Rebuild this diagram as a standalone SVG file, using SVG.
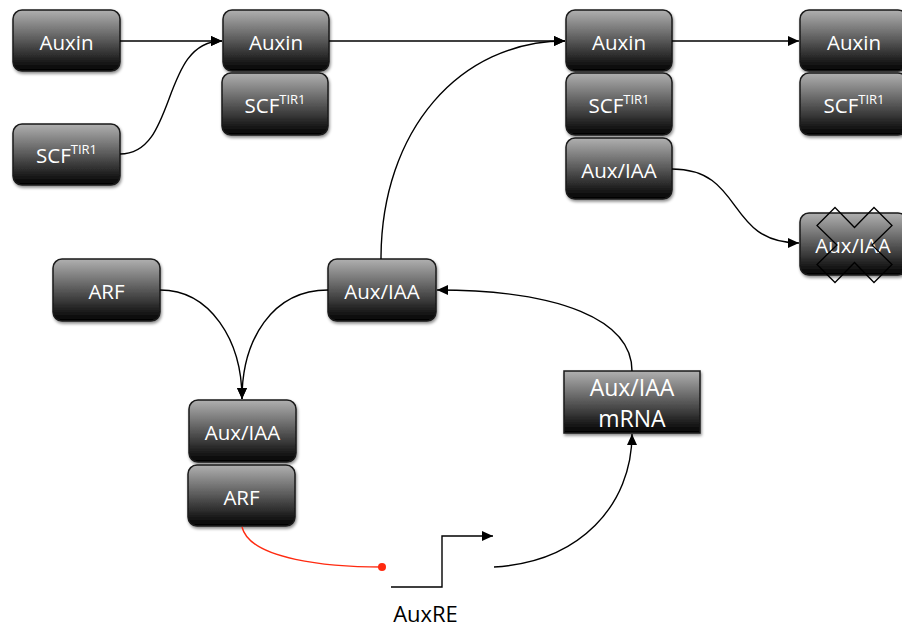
<svg xmlns="http://www.w3.org/2000/svg" width="902" height="628" viewBox="0 0 902 628">
<style>
.n{fill:url(#g);stroke:#1a1a1a;stroke-width:1.5;filter:url(#sh)}
.t{font-family:"Open Sans","Liberation Sans",sans-serif;font-size:20.5px;fill:#fff;text-anchor:middle}
.s{font-size:13px}
.c{fill:none;stroke:#000;stroke-width:1.4}
</style>
<defs>
<linearGradient id="g" x1="0" y1="0" x2="0" y2="1">
<stop offset="0" stop-color="#b0b0b0"/>
<stop offset="1" stop-color="#000"/>
</linearGradient>
<filter id="sh" x="-20%" y="-20%" width="150%" height="160%">
<feDropShadow dx="1" dy="2" stdDeviation="1.5" flood-color="#000" flood-opacity="0.45"/>
</filter>
<marker id="a" markerUnits="userSpaceOnUse" markerWidth="12" markerHeight="10" refX="11" refY="5" orient="auto">
<path d="M0,0 L11,5 L0,10 Z" fill="#000"/>
</marker>
</defs>

<g id="auxin1"><rect class="n" x="13" y="10" width="107" height="61" rx="9"/><text class="t" x="66.5" y="50">Auxin</text></g>
<g id="scf1"><rect class="n" x="13" y="124" width="107" height="61" rx="9"/><text class="t" x="66.5" y="163">SCF<tspan class="s" dy="-9">TIR1</tspan></text></g>
<g id="auxin2"><rect class="n" x="223" y="10" width="106" height="61" rx="9"/><text class="t" x="276" y="50">Auxin</text></g>
<g id="scf2"><rect class="n" x="222" y="73" width="106" height="62" rx="9"/><text class="t" x="275" y="113">SCF<tspan class="s" dy="-9">TIR1</tspan></text></g>
<g id="auxin3"><rect class="n" x="566" y="10" width="106" height="61" rx="9"/><text class="t" x="619" y="50">Auxin</text></g>
<g id="scf3"><rect class="n" x="566" y="73" width="106" height="62" rx="9"/><text class="t" x="619" y="113">SCF<tspan class="s" dy="-9">TIR1</tspan></text></g>
<g id="auxiaa3"><rect class="n" x="566" y="138" width="106" height="61" rx="9"/><text class="t" x="619" y="178">Aux/IAA</text></g>
<g id="auxin4"><rect class="n" x="800" y="10" width="107" height="61" rx="9"/><text class="t" x="854" y="50">Auxin</text></g>
<g id="scf4"><rect class="n" x="800" y="73" width="107" height="62" rx="9"/><text class="t" x="854" y="113">SCF<tspan class="s" dy="-9">TIR1</tspan></text></g>
<g id="degraded"><rect class="n" x="800" y="213" width="107" height="62" rx="9"/><text class="t" x="853" y="253">Aux/IAA</text>
<polygon points="835,207.5 854.5,227.5 874,207.5 892,225.5 872,245 892,264.5 874,282.5 854.5,262.5 835,282.5 817,264.5 837,245 817,225.5" fill="none" stroke="#000" stroke-width="1.3"/></g>
<g id="arf1"><rect class="n" x="53" y="259" width="107" height="62" rx="9"/><text class="t" x="106.5" y="299">ARF</text></g>
<g id="auxiaa2"><rect class="n" x="328" y="259" width="108" height="62" rx="9"/><text class="t" x="382" y="299">Aux/IAA</text></g>
<g id="auxiaa1"><rect class="n" x="189" y="400" width="107" height="62" rx="9"/><text class="t" x="242.5" y="440">Aux/IAA</text></g>
<g id="arf2"><rect class="n" x="188" y="465" width="107" height="61" rx="9"/><text class="t" x="241.5" y="505">ARF</text></g>
<g id="mrna"><rect class="n" x="564" y="371" width="136" height="62"/><text class="t" x="632" y="396" style="font-size:23px">Aux/IAA</text><text class="t" x="632" y="427" style="font-size:23px">mRNA</text></g>
<g id="auxre"><text x="425.5" y="622" style="font-family:'Open Sans','Liberation Sans',sans-serif;font-size:22px;fill:#000;text-anchor:middle">AuxRE</text></g>

<g id="connectors">
<path class="c" d="M120,41 H222" marker-end="url(#a)"/>
<path class="c" d="M120,154 C178,154 160,41 222,41" marker-end="url(#a)"/>
<path class="c" d="M329,41 H565" marker-end="url(#a)"/>
<path class="c" d="M381,259 C381,130 460,41 565,41" marker-end="url(#a)"/>
<path class="c" d="M672,41 H799" marker-end="url(#a)"/>
<path class="c" d="M672,169 C745,169 725,243 799,243" marker-end="url(#a)"/>
<path class="c" d="M160,290 C210,290 242,340 242,399" marker-end="url(#a)"/>
<path class="c" d="M328,290 C272,290 242,340 242,399" marker-end="url(#a)"/>
<path class="c" d="M632,371 C632,320 560,290 437,290" marker-end="url(#a)"/>
<path d="M242,527 C250,560 330,567 382,567" fill="none" stroke="#ff2a10" stroke-width="1.4"/>
<circle cx="382" cy="567" r="4" fill="#ff2a10"/>
<path class="c" d="M391,587 H442 V536 H493" marker-end="url(#a)"/>
<path class="c" d="M494,567 C580,562 632,505 632,434" marker-end="url(#a)"/>
</g>
</svg>
